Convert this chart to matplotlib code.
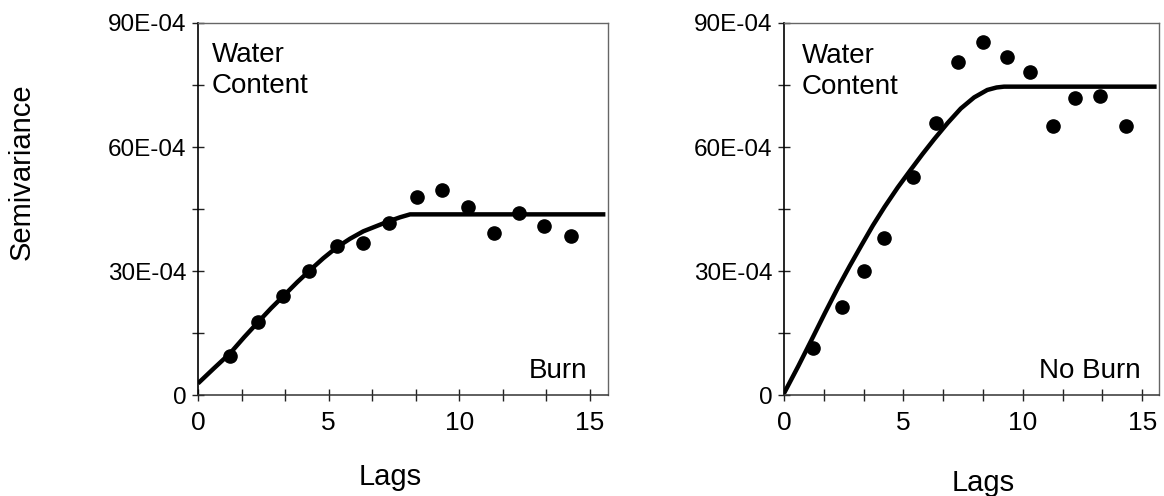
import matplotlib
matplotlib.use('Agg')
import matplotlib.pyplot as plt
import numpy as np

plt.rcParams['font.family'] = ['Liberation Sans', 'DejaVu Sans']

# semivariance values are in units of 1E-04
burn_lags = [1.23, 2.30, 3.26, 4.25, 5.33, 6.32, 7.32, 8.39, 9.35, 10.34, 11.34, 12.30, 13.26, 14.29]
burn_semivar = [9.4, 17.7, 24.0, 30.0, 36.0, 36.8, 41.6, 47.9, 49.6, 45.5, 39.2, 44.0, 40.9, 38.5]
burn_model_lags = [0.0, 0.6, 1.23, 1.77, 2.31, 2.8, 3.31, 3.8, 4.29, 4.8, 5.31, 5.82, 6.33, 6.85,
                   7.29, 7.74, 8.12, 15.6]
burn_model_semivar = [2.8, 6.4, 10.1, 14.0, 17.7, 21.0, 24.2, 27.3, 30.2, 33.1, 35.7, 37.8, 39.6,
                      40.9, 42.0, 43.0, 43.7, 43.7]

noburn_lags = [1.21, 2.42, 3.33, 4.17, 5.38, 6.38, 7.29, 8.33, 9.33, 10.29, 11.25, 12.20, 13.25, 14.33]
noburn_semivar = [11.4, 21.3, 30.0, 38.0, 52.7, 65.8, 80.6, 85.4, 81.8, 78.2, 65.1, 71.9, 72.3, 65.1]
noburn_model_lags = [0.0, 0.6, 1.15, 1.71, 2.26, 2.75, 3.24, 3.72, 4.21, 4.76, 5.32, 5.8, 6.29,
                     6.85, 7.40, 7.96, 8.51, 8.9, 9.21, 15.6]
noburn_model_semivar = [0.4, 7.0, 13.3, 19.8, 26.0, 31.2, 36.2, 41.0, 45.5, 50.2, 54.6, 58.3, 61.9,
                        65.8, 69.3, 72.0, 73.8, 74.4, 74.6, 74.6]

x_ticks = [0, 5 / 3, 10 / 3, 5, 20 / 3, 25 / 3, 10, 35 / 3, 40 / 3, 15]
x_labels = ['0', '', '', '5', '', '', '10', '', '', '15']
y_ticks = [0, 15, 30, 45, 60, 75, 90]
y_labels = ['0', '', '30E-04', '', '60E-04', '', '90E-04']

fig = plt.figure(figsize=(11.64, 4.96), dpi=100)
ax1 = fig.add_axes([198 / 1164, 101 / 496, 410 / 1164, 372 / 496])
ax2 = fig.add_axes([784 / 1164, 101 / 496, 375 / 1164, 372 / 496])


def style_axis(ax, label_xy):
    ax.set_xlim(0, 15.7)
    ax.set_ylim(0, 90)
    ax.set_xticks(x_ticks)
    ax.set_xticklabels(x_labels, fontsize=19)
    ax.set_yticks(y_ticks)
    ax.set_yticklabels(y_labels, fontsize=17.5)
    ax.tick_params(axis='both', direction='inout', length=9, width=1.0, color='#222222')
    ax.tick_params(axis='x', pad=7)
    ax.tick_params(axis='y', pad=4)
    ax.spines['left'].set_color('black')
    ax.spines['left'].set_linewidth(1.2)
    ax.spines['bottom'].set_color('#333333')
    ax.spines['bottom'].set_linewidth(1.1)
    for side in ['top', 'right']:
        ax.spines[side].set_color('#666666')
        ax.spines[side].set_linewidth(1.0)
    ax.set_xlabel('Lags', fontsize=21)
    ax.xaxis.set_label_coords(*label_xy)
    ax.xaxis.label.set_va('top')


ax1.plot(burn_model_lags, burn_model_semivar, color='black', linewidth=3.2,
         solid_capstyle='butt', solid_joinstyle='round')
ax1.plot(burn_lags, burn_semivar, 'o', color='black', markersize=9.5)
style_axis(ax1, (0.468, -0.183))
ax1.text(0.033, 0.95, 'Water\nContent', transform=ax1.transAxes, fontsize=20,
         ha='left', va='top', linespacing=1.25)
ax1.text(0.95, 0.045, 'Burn', transform=ax1.transAxes, fontsize=20, ha='right', va='baseline')

ax2.plot(noburn_model_lags, noburn_model_semivar, color='black', linewidth=3.2,
         solid_capstyle='butt', solid_joinstyle='round')
ax2.plot(noburn_lags, noburn_semivar, 'o', color='black', markersize=9.5)
style_axis(ax2, (0.531, -0.20))
ax2.text(0.048, 0.945, 'Water\nContent', transform=ax2.transAxes, fontsize=20,
         ha='left', va='top', linespacing=1.25)
ax2.text(0.952, 0.045, 'No Burn', transform=ax2.transAxes, fontsize=20, ha='right', va='baseline')

fig.text(0.019, 1 - 172 / 496, 'Semivariance', rotation=90, fontsize=21, ha='center', va='center')

fig.savefig('out.png', dpi=100)
